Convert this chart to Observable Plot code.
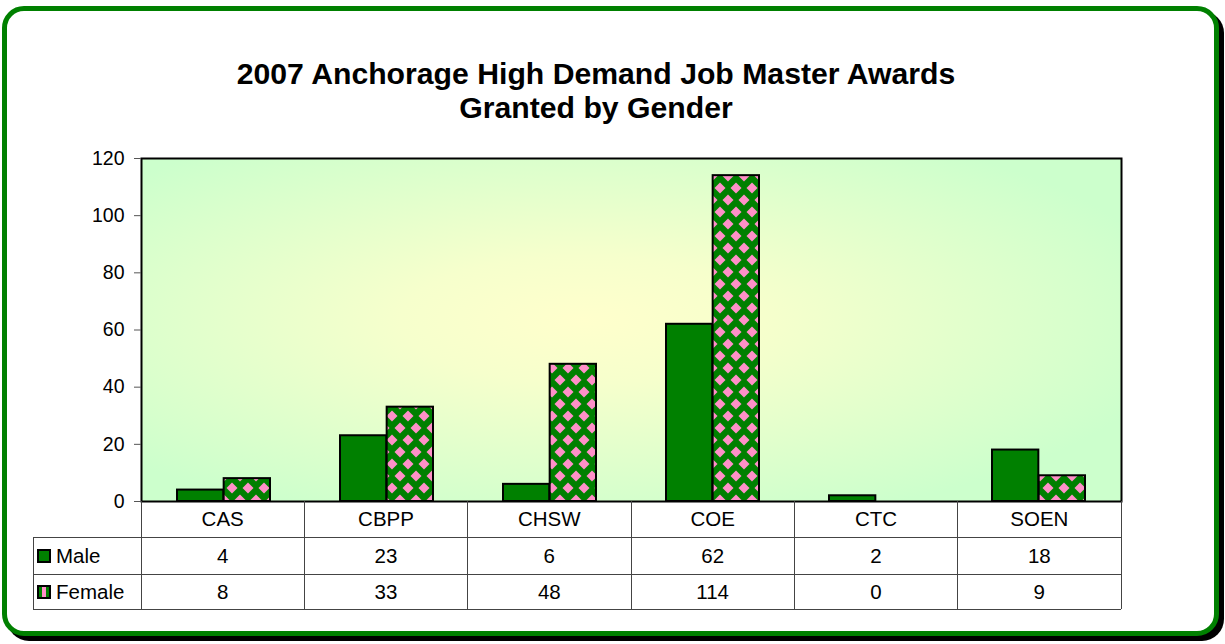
<!DOCTYPE html>
<html>
<head>
<meta charset="utf-8">
<script src="https://cdn.jsdelivr.net/npm/d3@7"></script>
<script src="https://cdn.jsdelivr.net/npm/@observablehq/plot@0.6"></script>
<style>
  html, body { margin: 0; padding: 0; background: #fff; }
  #wrap { position: relative; width: 1225px; height: 644px; overflow: hidden; font-family: "Liberation Sans", Arial, sans-serif; }
  #frame { position: absolute; left: 2px; top: 6px; width: 1217px; height: 630px; box-sizing: border-box;
           border: 5px solid #008000; border-radius: 22px; box-shadow: 5px 5px 0 #000; background: #fff; }
  #title { position: absolute; left: 0; top: 57px; width: 1192px; text-align: center; font-weight: bold;
           font-size: 30.2px; line-height: 34px; color: #000; }
  #chart { position: absolute; left: 0; top: 140px; }
  .cell { position: absolute; box-sizing: border-box; font-size: 20.5px; color: #000; display: flex;
          align-items: center; justify-content: center; }
  .line { position: absolute; background: #444; }
  .leg { position: absolute; font-size: 20.5px; display: flex; align-items: center; }
  .sw { width: 14px; height: 14px; box-sizing: border-box; border: 2px solid #000; margin-right: 5px; }
</style>
</head>
<body>
<div id="wrap">
  <div id="frame"></div>
  <div id="title">2007 Anchorage High Demand Job Master Awards<br>Granted by Gender</div>
  <div id="chart"></div>
  <div id="table"></div>
</div>
<script>
const categories = ["CAS", "CBPP", "CHSW", "COE", "CTC", "SOEN"];
const male = [4, 23, 6, 62, 2, 18];
const female = [8, 33, 48, 114, 0, 9];
const seriesNames = ["Male", "Female"];
const yTicks = [0, 20, 40, 60, 80, 100, 120];

const rows = [];
categories.forEach((c, i) => {
  rows.push({category: c, series: "Male", value: male[i]});
  rows.push({category: c, series: "Female", value: female[i]});
});

const W = 1225, H = 380, mL = 141, mR = 104, mT = 18, mB = 19;
const band = (W - mL - mR) / categories.length;
const barW = band * 2 / 7;      // gap width 150%
const gap = band * 1.5 / 7;

const chart = Plot.plot({
  width: W, height: H,
  marginLeft: mL, marginRight: mR, marginTop: mT, marginBottom: mB,
  style: {fontFamily: "Liberation Sans, Arial, sans-serif", fontSize: "19.5px", background: "transparent", overflow: "visible"},
  x: {type: "band", domain: categories, paddingInner: 0, paddingOuter: 0, axis: null},
  y: {domain: [0, 120], label: null},
  marks: [
    Plot.frame({fill: "url(#bggrad)", stroke: null}),
    Plot.barY(rows.filter(d => d.series === "Male" && d.value > 0), {
      x: "category", y: "value", fill: "#008000", stroke: "#000", strokeWidth: 2,
      insetLeft: gap, insetRight: band - gap - barW
    }),
    Plot.barY(rows.filter(d => d.series === "Female" && d.value > 0), {
      x: "category", y: "value", fill: "url(#diamonds)", stroke: "#000", strokeWidth: 2,
      insetLeft: gap + barW, insetRight: gap
    }),
    Plot.frame({stroke: "#000", strokeWidth: 2}),
    Plot.axisY({ticks: yTicks, tickSize: 7, tickPadding: 10, label: null, stroke: "#555", fill: "#000", tickFormat: d => String(d)})
  ]
});

// defs: gradient & pattern
const ns = "http://www.w3.org/2000/svg";
const defs = document.createElementNS(ns, "defs");
defs.innerHTML = `
  <radialGradient id="bggrad" cx="0.45" cy="0.47" r="0.62">
    <stop offset="0" stop-color="#ffffcc"/>
    <stop offset="0.3" stop-color="#f6ffcc"/>
    <stop offset="1" stop-color="#ccffcc"/>
  </radialGradient>
  <pattern id="diamonds" patternUnits="userSpaceOnUse" width="16" height="24">
    <rect width="16" height="24" fill="#008000"/>
    <polygon points="0,-5.5 5.5,0 0,5.5 -5.5,0" fill="#ff90c8"/>
    <polygon points="16,-5.5 21.5,0 16,5.5 10.5,0" fill="#ff90c8"/>
    <polygon points="0,18.5 5.5,24 0,29.5 -5.5,24" fill="#ff90c8"/>
    <polygon points="16,18.5 21.5,24 16,29.5 10.5,24" fill="#ff90c8"/>
    <polygon points="8,6.5 13.5,12 8,17.5 2.5,12" fill="#ff90c8"/>
  </pattern>`;
chart.insertBefore(defs, chart.firstChild);
document.getElementById("chart").appendChild(chart);

// data table
const table = document.getElementById("table");
const top0 = 140 + H - mB;           // 501
const rowH = [36, 37, 35];
const rowTop = [top0, top0 + rowH[0], top0 + rowH[0] + rowH[1]];
const tableBottom = rowTop[2] + rowH[2];
const legLeft = 33;
function add(cls, style, html) {
  const d = document.createElement("div");
  d.className = cls;
  Object.assign(d.style, style);
  if (html != null) d.innerHTML = html;
  table.appendChild(d);
  return d;
}
// lines
const colX = categories.map((c, i) => mL + i * band).concat([W - mR]);
colX.forEach(x => add("line", {left: (x - 0.5) + "px", top: top0 + "px", width: "1px", height: (tableBottom - top0) + "px"}));
add("line", {left: (legLeft - 0.5) + "px", top: rowTop[1] + "px", width: "1px", height: (tableBottom - rowTop[1]) + "px"});
add("line", {left: legLeft + "px", top: (rowTop[1] - 0.5) + "px", width: (W - mR - legLeft) + "px", height: "1px"});
add("line", {left: legLeft + "px", top: (rowTop[2] - 0.5) + "px", width: (W - mR - legLeft) + "px", height: "1px"});
add("line", {left: legLeft + "px", top: (tableBottom - 0.5) + "px", width: (W - mR - legLeft) + "px", height: "1px"});
// category labels
categories.forEach((c, i) => add("cell", {left: colX[i] + "px", top: rowTop[0] + "px", width: band + "px", height: rowH[0] + "px"}, c));
// values
const series = [male, female];
series.forEach((vals, r) => {
  vals.forEach((v, i) => add("cell", {left: colX[i] + "px", top: rowTop[r + 1] + "px", width: band + "px", height: rowH[r + 1] + "px"}, String(v)));
});
// legend keys
seriesNames.forEach((s, r) => {
  const d = add("leg", {left: (legLeft + 4) + "px", top: rowTop[r + 1] + "px", height: rowH[r + 1] + "px"});
  const sw = document.createElement("div");
  sw.className = "sw";
  if (r === 0) sw.style.background = "#008000";
  else sw.style.background = "linear-gradient(90deg, #008000 0 25%, #ff90c8 25% 75%, #008000 75%)";
  d.appendChild(sw);
  const t = document.createElement("span");
  t.textContent = s;
  d.appendChild(t);
});
</script>
</body>
</html>
